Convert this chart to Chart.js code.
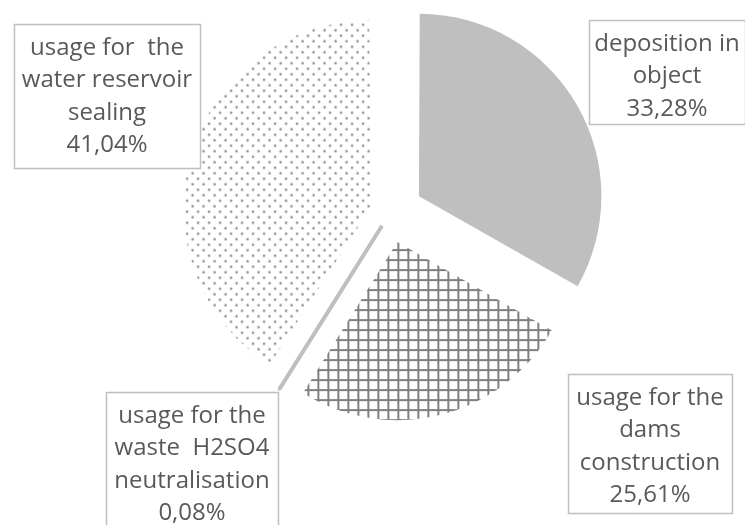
<!DOCTYPE html>
<html>
<head>
<meta charset="utf-8">
<script src="https://cdn.jsdelivr.net/npm/chart.js@4/dist/chart.umd.min.js"></script>
<style>
  body { margin: 0; background: #fff; }
  canvas { display: block; }
</style>
</head>
<body>
<canvas id="pie" width="745" height="525"></canvas>
<script>
// uses of the material, in percent (commas as in the original)
const categories = [
  ['deposition in', 'object'],
  ['usage for the', 'dams', 'construction'],
  ['usage for the', 'waste  H2SO4', 'neutralisation'],
  ['usage for  the', 'water reservoir', 'sealing']
];
const shares = [33.28, 25.61, 0.08, 41.04];

// how far each slice is pulled out of the pie
const explode = [134, 120, 60, 80];

// where the label boxes sit (x, y, w, h)
const labelBoxes = [
  [589, 20, 156, 104],
  [568, 374, 164, 139],
  [106, 392, 172, 140],
  [14, 24, 186, 144]
];

function gridPattern() {
  const c = document.createElement('canvas');
  c.width = 10; c.height = 10;
  const g = c.getContext('2d');
  g.fillStyle = '#fff';
  g.fillRect(0, 0, 10, 10);
  g.fillStyle = '#7f7f7f';
  g.fillRect(0, 0, 10, 2);
  g.fillRect(0, 0, 2, 10);
  return g.createPattern(c, 'repeat');
}

function dotPattern() {
  const c = document.createElement('canvas');
  c.width = 11; c.height = 11;
  const g = c.getContext('2d');
  g.fillStyle = '#fff';
  g.fillRect(0, 0, 11, 11);
  g.fillStyle = '#8c8c8c';
  g.beginPath();
  g.arc(2.75, 2.75, 1.3, 0, Math.PI * 2);
  g.arc(8.25, 8.25, 1.3, 0, Math.PI * 2);
  g.fill();
  return g.createPattern(c, 'repeat');
}

function fmt(v) {
  return v.toFixed(2).replace('.', ',') + '%';
}

// draws the boxed labels on top of the pie
const boxLabels = {
  id: 'boxLabels',
  afterDraw(chart) {
    const ctx = chart.ctx;
    ctx.save();
    ctx.font = '24px "Open Sans"';
    ctx.textAlign = 'center';
    ctx.textBaseline = 'middle';
    for (let i = 0; i < categories.length; i++) {
      const [x, y, w, h] = labelBoxes[i];
      ctx.fillStyle = '#fff';
      ctx.fillRect(x, y, w, h);
      ctx.strokeStyle = '#bfbfbf';
      ctx.lineWidth = 1.5;
      ctx.strokeRect(x + 0.5, y + 0.5, w, h);
      const lines = categories[i].concat([fmt(shares[i])]);
      ctx.fillStyle = '#595959';
      for (let j = 0; j < lines.length; j++) {
        ctx.fillText(lines[j], x + w / 2, y + 24 + j * 32.5);
      }
    }
    ctx.restore();
  }
};

new Chart(document.getElementById('pie'), {
  type: 'pie',
  data: {
    labels: categories.map(l => l.join(' ')),
    datasets: [{
      data: shares,
      backgroundColor: ['#bfbfbf', gridPattern(), '#bfbfbf', dotPattern()],
      borderColor: ['#bfbfbf', '#7f7f7f', '#bfbfbf', '#fff'],
      borderWidth: [0, 0, 4, 0],
      offset: explode
    }]
  },
  options: {
    responsive: false,
    animation: false,
    radius: 178,
    layout: { padding: { left: 35, right: 0, top: 0, bottom: 99 } },
    plugins: {
      legend: { display: false },
      tooltip: { enabled: false }
    }
  },
  plugins: [boxLabels]
});
</script>
</body>
</html>
